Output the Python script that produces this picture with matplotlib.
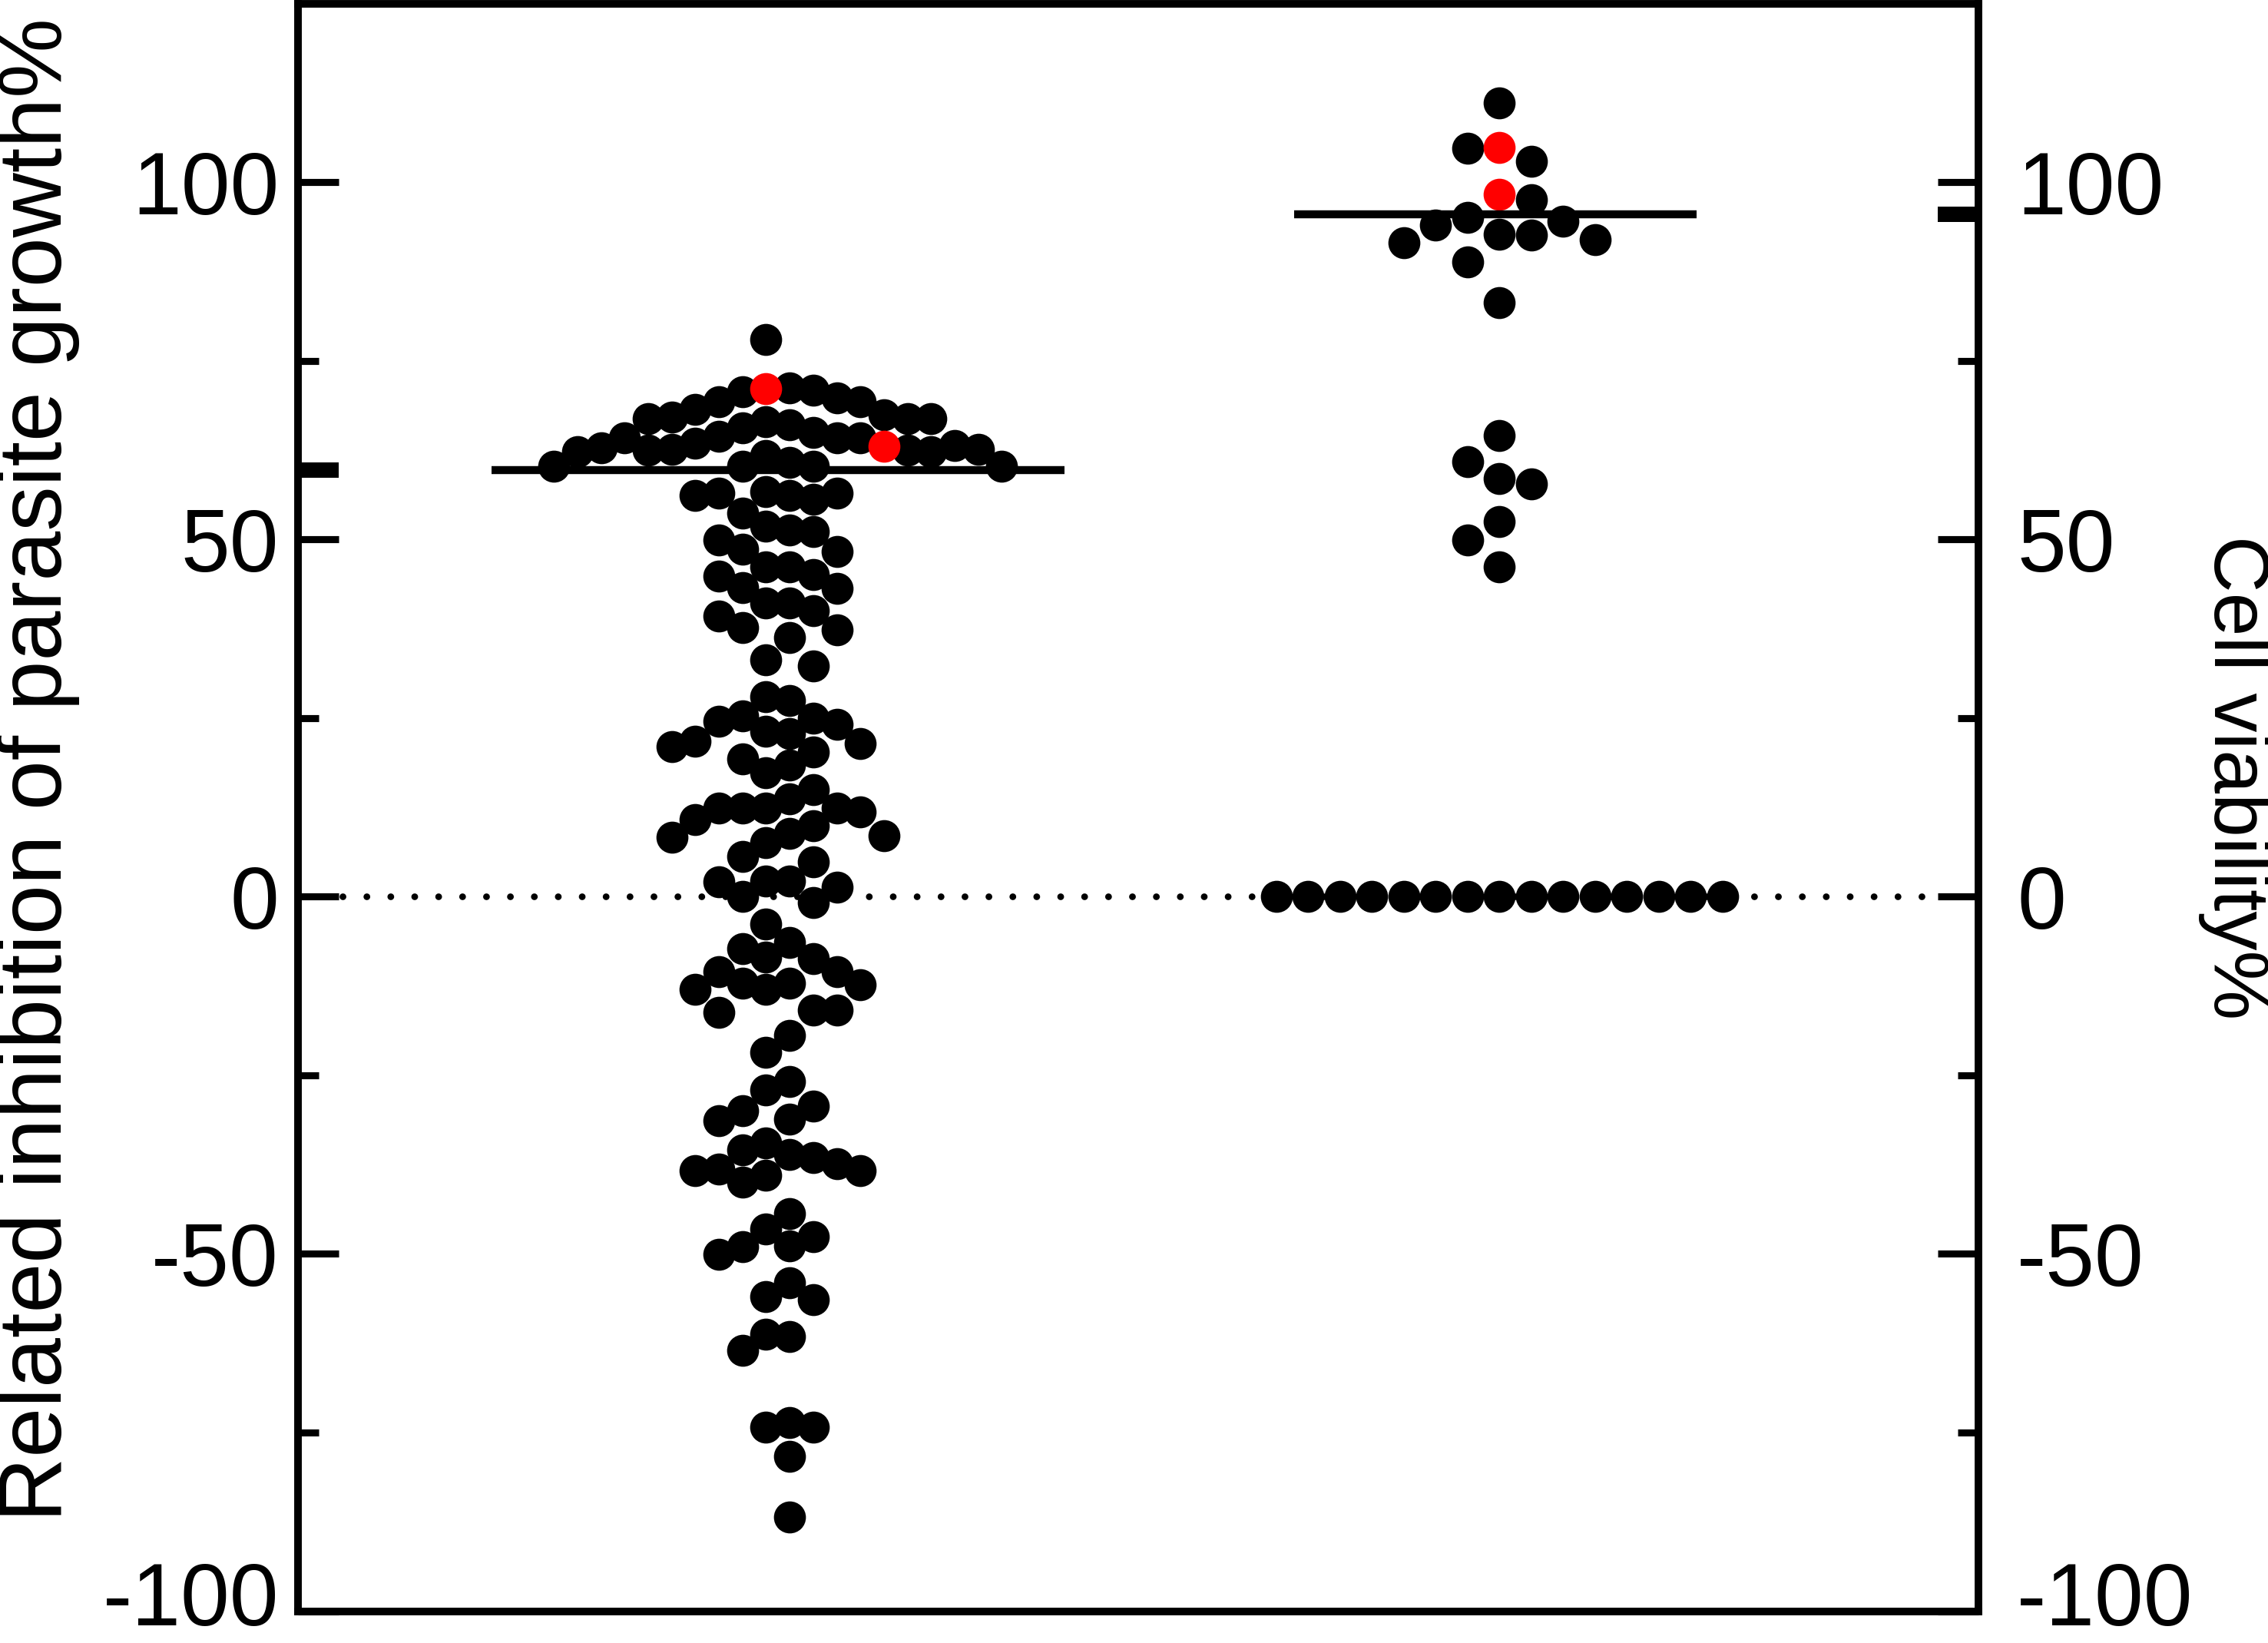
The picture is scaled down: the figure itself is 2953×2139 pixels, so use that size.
import numpy as np
import matplotlib
matplotlib.use('Agg')
import matplotlib.pyplot as plt
from matplotlib.transforms import ScaledTranslation

plt.rcParams['font.family'] = ['Liberation Sans', 'DejaVu Sans']
plt.rcParams['axes.unicode_minus'] = False

# left group: related inhibition of parasite growth (%)
left_black = [78.0, 71.2, 70.9, 69.8, 70.7, 66.9, 66.9, 66.5, 65.6, 64.2, 66.0, 67.1,
              63.5, 62.6, 62.5, 62.3, 61.7, 60.3, 60.3, 62.6, 60.3, 60.8, 66.9, 69.3,
              62.5, 64.2, 65.0, 60.3, 67.5, 69.3, 68.2, 62.8, 64.2, 63.2, 62.3, 64.4,
              56.5, 55.6, 56.5, 53.7, 56.2, 56.2, 56.7, 51.9, 49.9, 48.3, 48.6, 51.1,
              51.3, 45.1, 44.9, 43.3, 43.1, 46.2, 46.2, 39.3, 40.0, 37.4, 37.7, 36.3,
              41.1, 41.1, 32.3, 33.1, 28.0, 27.5, 25.3,
              23.2, 22.8, 21.4, 25.0, 20.2, 21.8, 17.3, 24.5, 24.1, 19.3, 21.0, 18.4,
              15.0, 12.4, 11.9, 13.7, 12.4, 12.4, 12.4, 10.8, 8.9, 9.9, 8.5, 8.3, 7.6,
              4.9, 5.6, 2.2, 2.2, 0.0, 1.3, 2.1, -0.8, -3.8, -6.4, -8.5, -7.3, -8.7,
              -10.5, -10.5, -13.0, -13.0, -12.1, -12.1, -12.3, -15.9, -15.9, -16.2,
              -19.4, -21.8, -25.9, -27.0, -31.1, -31.3, -29.3, -30.0, -36.5, -36.1,
              -34.5, -39.0, -40.0, -38.1, -38.3, -38.3, -35.4, -37.4,
              -44.4, -49.0, -48.9, -47.6, -50.1, -46.5, -54.0, -56.0, -56.4, -61.6,
              -63.5, -61.2, -74.3, -73.6, -74.3, -78.3, -86.8]
left_red = [71.1, 63.0]
left_line = 59.7

# right group: cell viability (%)
right_black = [111.1, 104.8, 102.9, 97.5, 94.5, 92.6, 91.5, 92.0, 94.0, 88.8, 83.1,
               92.7, 95.1, 64.6, 60.9, 58.5, 57.8, 52.5, 49.9, 46.2,
               0, 0, 0, 0, 0, 0, 0, 0, 0, 0, 0, 0, 0, 0, 0]
right_red = [104.9, 98.3]
right_line = 95.5

y_ticks = [-100, -50, 0, 50, 100]
y_minor = [-75, -25, 25, 75]

W, H, DPI = 2953, 2139, 300
fig = plt.figure(figsize=(W / DPI, H / DPI), dpi=DPI)
ax = fig.add_axes([0.1314, 0.0194, 0.741, 0.9784])
ax.set_xlim(0.335, 2.664)
ax.set_ylim(-100, 125)

MS = 10.0                     # marker diameter in pt
diam_px = MS * DPI / 72


def swarm(values, center, step_px, half_slots):
    """put points in columns, nearest to the center, no overlap inside a column"""
    vals = np.asarray(values, dtype=float)
    p0 = ax.transData.transform((0, 0))
    p1 = ax.transData.transform((1, 1))
    x_ppu, y_ppu = p1[0] - p0[0], p1[1] - p0[1]
    ks = np.arange(-30, 31) + (0.5 if half_slots else 0.0)
    cols = {}
    xs = np.zeros(len(vals))
    flip = 1
    for i in np.argsort(-vals, kind='stable'):
        y = vals[i] * y_ppu
        cand = sorted(ks, key=lambda k: (abs(k), flip * k))
        for k in cand:
            if all(abs(y - yy) >= diam_px * 0.98 for yy in cols.get(k, [])):
                cols.setdefault(k, []).append(y)
                xs[i] = center + k * step_px / x_ppu
                break
        flip = -flip
    return xs


groups = [(1, left_black, left_red, 30.7, True),
          (2, right_black, right_red, 41.5, False)]
for cx, blk, red, step, half in groups:
    vals = list(blk) + list(red)
    xs = swarm(vals, cx, step, half)
    nb = len(blk)
    ax.plot(xs[:nb], vals[:nb], 'o', ms=MS, mew=0, color='black', zorder=3)
    ax.plot(xs[nb:], vals[nb:], 'o', ms=MS, mew=0, color='#ff0000', zorder=4)

# mean lines
ax.plot([1 - 0.397, 1 + 0.397], [left_line] * 2, color='black', lw=2.5,
        solid_capstyle='butt', zorder=5)
ax.plot([2 - 0.285, 2 + 0.273], [right_line] * 2, color='black', lw=2.5,
        solid_capstyle='butt', zorder=5)

# dotted zero line
ax.plot([0.397, 2.608], [0, 0], color='black', lw=2.1, linestyle=(0, (0.01, 3.55)),
        dash_capstyle='round', zorder=2)

for s in ax.spines.values():
    s.set_linewidth(2.3)
ax.set_xticks([])
ax.set_yticks(y_ticks)
ax.set_yticks(y_minor, minor=True)
ax.tick_params(axis='y', which='both', direction='in', width=2.2, labelsize=27.5, pad=6)
ax.tick_params(axis='y', which='major', length=12.7)
ax.tick_params(axis='y', which='minor', length=6.5)

ax2 = ax.twinx()
ax2.set_ylim(ax.get_ylim())
ax2.set_yticks(y_ticks)
ax2.set_yticks(y_minor, minor=True)
ax2.tick_params(axis='y', which='both', direction='in', width=2.2, labelsize=27.5, pad=12)
ax2.tick_params(axis='y', which='major', length=12.7)
ax2.tick_params(axis='y', which='minor', length=6.5)
for s in ax2.spines.values():
    s.set_linewidth(2.3)

# lift the bottom labels a little so they stay inside the figure
lift = ScaledTranslation(0, 5.5 / 72, fig.dpi_scale_trans)
ax.yaxis.get_major_ticks()[0].label1.set_transform(
    ax.yaxis.get_major_ticks()[0].label1.get_transform() + lift)
ax2.yaxis.get_major_ticks()[0].label2.set_transform(
    ax2.yaxis.get_major_ticks()[0].label2.get_transform() + lift)

# thick marks on the axes at the line values
tl = 12.7 * DPI / 72 / (0.741 * W)
ax.plot([0, tl], [left_line] * 2, transform=ax.get_yaxis_transform(), color='black',
        lw=4.8, solid_capstyle='butt', clip_on=False, zorder=6)
ax.plot([1 - tl, 1], [right_line] * 2, transform=ax.get_yaxis_transform(), color='black',
        lw=4.8, solid_capstyle='butt', clip_on=False, zorder=6)

fig.text(0.0166, 0.5317, 'Related inhibition of parasite growth%', rotation=90,
         ha='center', va='center', fontsize=28)
fig.text(0.9853, 0.527, 'Cell viability%', rotation=270,
         ha='center', va='center', fontsize=24.5)

fig.savefig('out.png', dpi=DPI)
